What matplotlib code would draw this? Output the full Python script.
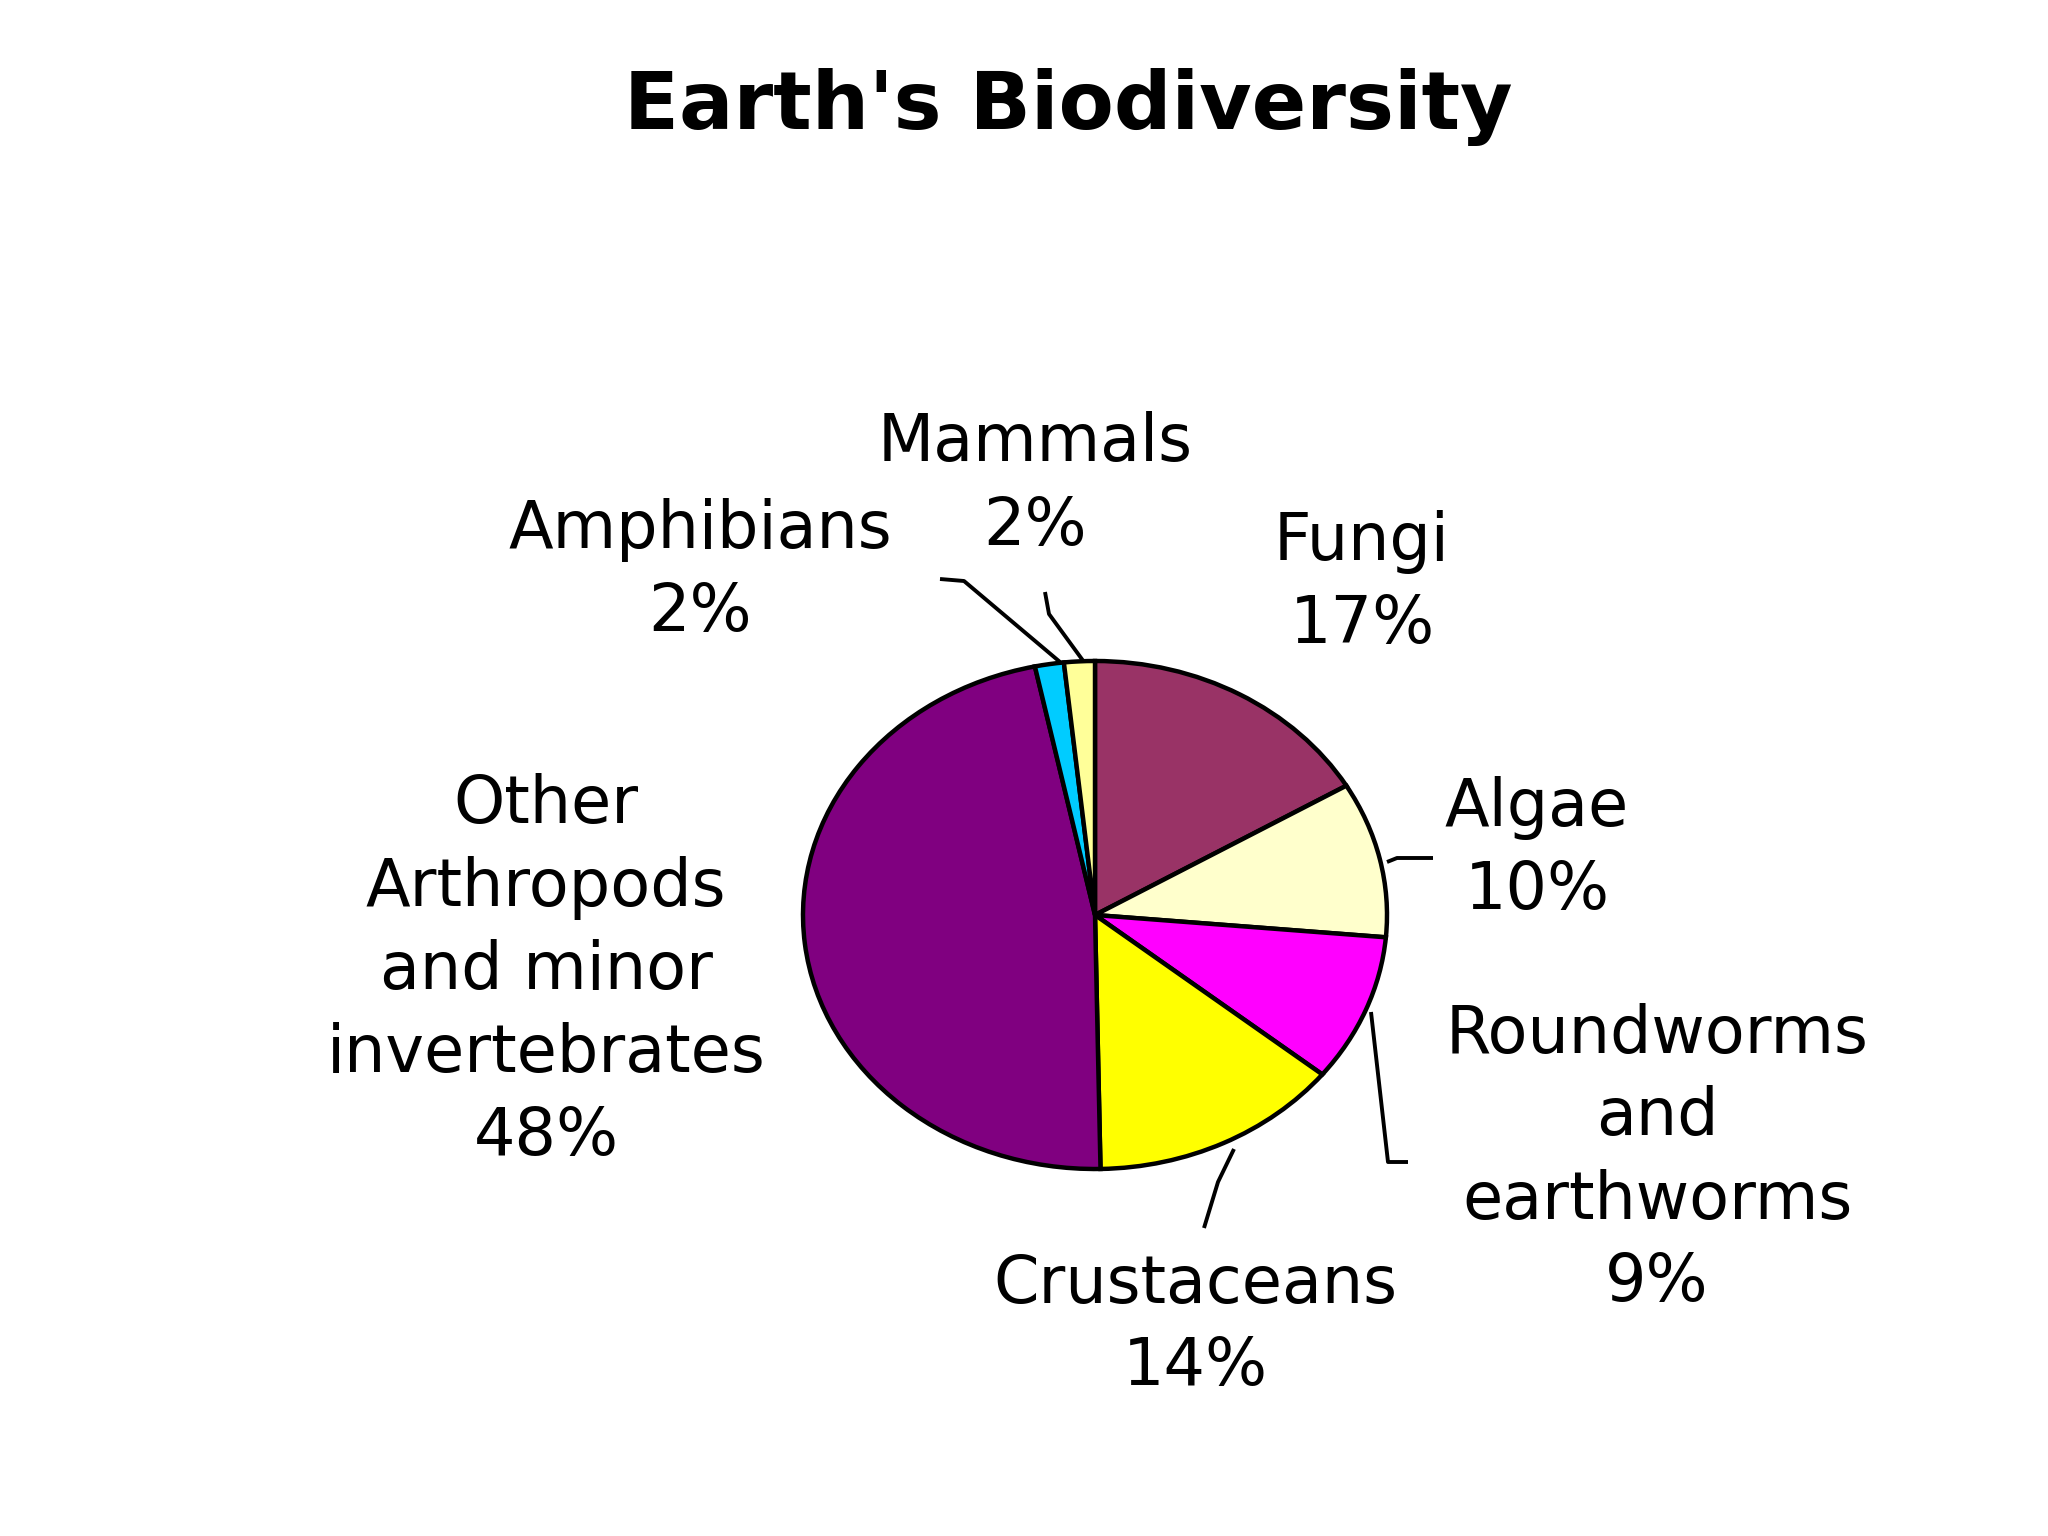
import matplotlib
matplotlib.use("Agg")
import matplotlib.pyplot as plt

# slice data, clockwise from 12 o'clock
names = ["Fungi", "Algae", "Roundworms\nand\nearthworms", "Crustaceans",
         "Other\nArthropods\nand minor\ninvertebrates", "Amphibians", "Mammals"]
shares = [16.5, 9.9, 9.4, 13.9, 47.0, 1.6, 1.7]
pct_labels = ["17%", "10%", "9%", "14%", "48%", "2%", "2%"]
colors = ["#993366", "#FFFFCC", "#FF00FF", "#FFFF00", "#800080", "#00CCFF", "#FFFF99"]

# layout in figure pixels (top-left origin)
W, H = 2048, 1536
PIE_C = (1095, 915)
PIE_A, PIE_B = 292, 254
label_pos = [(1362, 583), (1537, 849), (1657, 1159), (1195, 1326),
             (546, 971), (700, 571), (1035, 485)]
leaders = [
    None,
    [(1387, 862), (1397, 858), (1433, 858)],
    [(1371, 1012), (1388, 1162), (1408, 1162)],
    [(1234, 1149), (1218, 1182), (1204, 1228)],
    None,
    [(940, 579), (964, 581), (1060, 662)],
    [(1045, 592), (1049, 614), (1084, 662)],
]

FONT = "DejaVu Sans"

fig = plt.figure(figsize=(W / 100, H / 100), dpi=100)
fig.patch.set_facecolor("white")

# overlay axes in pixel coordinates for labels and leader lines
ax = fig.add_axes([0, 0, 1, 1])
ax.set_xlim(0, W)
ax.set_ylim(H, 0)
ax.axis("off")

# pie axes sized to the (slightly flattened) pie
pax = fig.add_axes([(PIE_C[0] - PIE_A) / W, 1 - (PIE_C[1] + PIE_B) / H,
                    2 * PIE_A / W, 2 * PIE_B / H])
wedges, _ = pax.pie(shares, colors=colors, startangle=90, counterclock=False,
                    radius=1.0,
                    wedgeprops=dict(edgecolor="black", linewidth=3.2))
for w in wedges:
    w.set_clip_on(False)
pax.set_aspect("auto")
pax.set_xlim(-1, 1)
pax.set_ylim(-1, 1)
pax.axis("off")

for name, pct, (x, y) in zip(names, pct_labels, label_pos):
    ax.text(x, y, name + "\n" + pct, ha="center", va="center",
            fontsize=47, family=FONT, linespacing=1.38, color="black")

for pts in leaders:
    if pts is None:
        continue
    xs = [p[0] for p in pts]
    ys = [p[1] for p in pts]
    ax.plot(xs, ys, color="black", linewidth=2.8, solid_capstyle="butt")

fig.text(1068 / W, 1 - 107 / H, "Earth's Biodiversity", ha="center", va="center",
         fontsize=58, fontweight="bold", family=FONT)

fig.savefig("out.png", dpi=100, facecolor="white")
